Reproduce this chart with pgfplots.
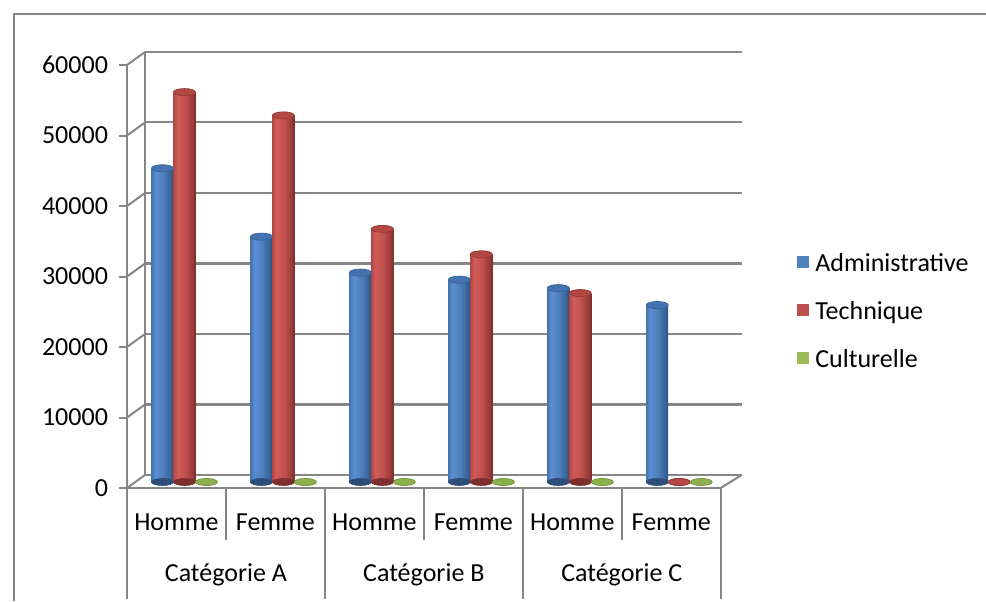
\documentclass[border=0pt]{standalone}
\usepackage{pgfplots}
\usepackage{pgfplotstable}
\pgfplotsset{compat=1.18}
\usepackage{fontspec}
\setmainfont{Carlito}

\definecolor{framegray}{HTML}{868686}
\definecolor{admblue}{HTML}{4F81BD}
\definecolor{techred}{HTML}{C0504D}
\definecolor{cultgreen}{HTML}{9BBB59}
% cylinder body tones
\definecolor{bL}{HTML}{4573B1}
\definecolor{bH}{HTML}{5B8ED1}
\definecolor{bM}{HTML}{4D7FBC}
\definecolor{bR}{HTML}{3A6296}
\definecolor{bE}{HTML}{2D4E7A}
\definecolor{rL}{HTML}{B24744}
\definecolor{rH}{HTML}{D25C59}
\definecolor{rM}{HTML}{C0504D}
\definecolor{rR}{HTML}{983C3A}
\definecolor{rE}{HTML}{7C2F2D}
\definecolor{gF}{HTML}{8DB04E}
\definecolor{gE}{HTML}{76963F}

\pgfdeclarehorizontalshading{cylblue}{100bp}{color(0bp)=(bL); color(25bp)=(bL); color(34bp)=(bH); color(52bp)=(bM); color(68bp)=(bR); color(75bp)=(bE); color(100bp)=(bE)}
\pgfdeclarehorizontalshading{cylred}{100bp}{color(0bp)=(rL); color(25bp)=(rL); color(34bp)=(rH); color(52bp)=(rM); color(68bp)=(rR); color(75bp)=(rE); color(100bp)=(rE)}

% flat ellipse used for the cylinder caps and rims
\pgfdeclareplotmark{cylcap}{%
  \pgfpathellipse{\pgfpointorigin}{\pgfqpoint{\pgfplotmarksize}{0pt}}{\pgfqpoint{0pt}{0.32\pgfplotmarksize}}%
  \pgfusepathqfillstroke}

\pgfplotstableread{
idx adm tech cult base
0 44500 55300 0 0
1 34800 52000 0 0
2 29700 35900 0 0
3 28700 32300 0 0
4 27500 26800 0 0
5 25100 0 0 0
}\effectifs

\pgfplotsset{
  plane/.style={scale only axis, width=296.85pt, height=211.5pt,
    xmin=-0.5, xmax=5.5, ymin=0, ymax=60000, anchor=south west, clip=false,
    scaled y ticks=false},
  cyl/.style={ybar, bar width=11pt, bar shift=0pt, draw=none, forget plot}
}
\tikzset{
  lbl/.style={font=\fontsize{13}{15}\selectfont, text=black},
  edge/.style={framegray, line width=1pt}
}

\begin{document}
\begin{tikzpicture}
% chart frame
\draw[edge] (7pt,0pt) -- (7pt,293.5pt) -- (493pt,293.5pt);

% back wall with gridlines
\begin{axis}[plane, at={(72.5pt,63pt)}, width=298.5pt, height=211.65pt,
  axis x line=none, axis y line*=left,
  y axis line style={framegray, line width=1pt},
  ytick={0,10000,20000,30000,40000,50000,60000}, yticklabels={}, major tick length=0pt,
  ymajorgrids, grid style={framegray, line width=1.2pt}]
\addplot[draw=none] coordinates {(0,0)};
\end{axis}

% front axis, floor and categories
\begin{axis}[plane, at={(63.5pt,56.5pt)},
  axis y line*=left, axis x line*=bottom,
  axis line style={framegray, line width=1pt},
  ytick={0,10000,20000,30000,40000,50000,60000}, xtick=\empty,
  tick align=outside, major tick length=4pt,
  ytick style={framegray, line width=1pt},
  yticklabel style={lbl, xshift=-2pt, /pgf/number format/1000 sep={}},
  /pgf/number format/assume math mode=true,
  legend image code/.code={\fill[#1] (0pt,-1.5pt) rectangle (6pt,4.5pt);},
  legend cell align=left,
  legend style={draw=none, fill=none, at={(rel axis cs:1.1285,0.4137)}, anchor=west,
    inner sep=0pt, row sep=12pt, column sep=3pt, font=\fontsize{13}{15}\selectfont,
    nodes={inner sep=0pt, text height=9pt, text depth=3pt}}]
\addlegendimage{fill=admblue, draw=none}
\addlegendentry{Administrative}
\addlegendimage{fill=techred, draw=none}
\addlegendentry{Technique}
\addlegendimage{fill=cultgreen, draw=none}
\addlegendentry{Culturelle}
% depth edges from the front ticks to the back wall
\pgfplotsinvokeforeach{0,10000,20000,30000,40000,50000,60000}{
  \draw[edge] (axis cs:-0.5,#1) -- ++(9pt,6.5pt);
}
\draw[edge] (axis cs:5.5,0) -- ++(10.5pt,6.5pt);
% category dividers
\pgfplotsinvokeforeach{0.5,2.5,4.5}{
  \draw[edge] (axis cs:#1,0) -- ++(0pt,-26pt);
}
\pgfplotsinvokeforeach{-0.5,1.5,3.5,5.5}{
  \draw[edge] (axis cs:#1,0) -- ++(0pt,-55.5pt);
}
% category labels
\node[lbl, yshift=-17pt] at (axis cs:0,0) {Homme};
\node[lbl, yshift=-17pt] at (axis cs:1,0) {Femme};
\node[lbl, yshift=-17pt] at (axis cs:2,0) {Homme};
\node[lbl, yshift=-17pt] at (axis cs:3,0) {Femme};
\node[lbl, yshift=-17pt] at (axis cs:4,0) {Homme};
\node[lbl, yshift=-17pt] at (axis cs:5,0) {Femme};
\node[lbl, yshift=-43.5pt] at (axis cs:0.5,0) {Catégorie A};
\node[lbl, yshift=-43.5pt] at (axis cs:2.5,0) {Catégorie B};
\node[lbl, yshift=-43.5pt] at (axis cs:4.5,0) {Catégorie C};
\end{axis}

% cylinders, set half-way into the depth of the floor
\begin{axis}[plane, at={(67.5pt,59.5pt)}, hide axis]
% Administrative: rims, bodies (one path each so every body gets its own shading), caps
\addplot[only marks, mark=cylcap, mark size=5.5pt, mark options={fill=bE, draw=bE, line width=0.3pt}]
  table[x expr=\thisrow{idx}-0.2223, y=base] {\effectifs};
\pgfplotsinvokeforeach{-0.3:-0.1,0.7:0.9,1.7:1.9,2.7:2.9,3.7:3.9,4.7:4.9}{
  \addplot[cyl, shading=cylblue, restrict x to domain=#1]
    table[x expr=\thisrow{idx}-0.2223, y=adm] {\effectifs};
}
\addplot[only marks, mark=cylcap, mark size=5.5pt, mark options={fill=bL, draw=bR, line width=0.4pt}]
  table[x expr=\thisrow{idx}-0.2223, y=adm] {\effectifs};
% Technique
\addplot[only marks, mark=cylcap, mark size=5.5pt, mark options={fill=rE, draw=rE, line width=0.3pt}]
  table[x=idx, y=base] {\effectifs};
\pgfplotsinvokeforeach{-0.1:0.1,0.9:1.1,1.9:2.1,2.9:3.1,3.9:4.1}{
  \addplot[cyl, shading=cylred, restrict x to domain=#1]
    table[x=idx, y=tech] {\effectifs};
}
\addplot[only marks, mark=cylcap, mark size=5.5pt, mark options={fill=rL, draw=rR, line width=0.4pt}]
  table[x=idx, y=tech] {\effectifs};
% Culturelle
\addplot[only marks, mark=cylcap, mark size=5.5pt, mark options={fill=gF, draw=gE, line width=0.4pt}]
  table[x expr=\thisrow{idx}+0.2223, y=cult] {\effectifs};
\end{axis}

\pgfresetboundingbox
\path[use as bounding box] (0pt,0pt) rectangle (493pt,300.5pt);
\end{tikzpicture}
\end{document}
